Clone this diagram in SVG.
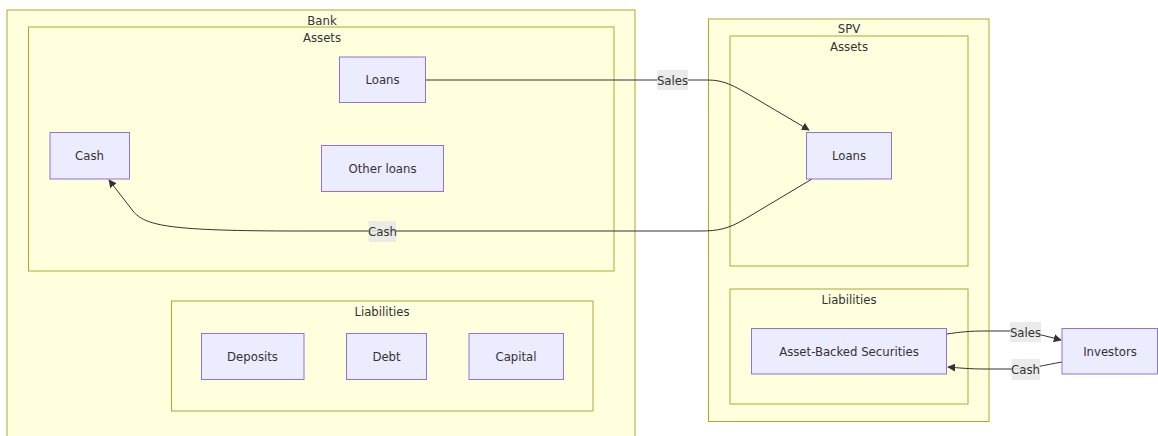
<svg xmlns="http://www.w3.org/2000/svg" width="1158" height="436" viewBox="0 0 1158 436">
  <style>
    .cluster { fill: #ffffde; stroke: #aaaa33; stroke-width: 1; }
    .node rect { fill: #ececff; stroke: #9370db; stroke-width: 1; }
    text { font-family: "DejaVu Sans Condensed", "Liberation Sans", sans-serif; font-size: 13px; fill: #333333; text-anchor: middle; dominant-baseline: central; }
    .edge { fill: none; stroke: #333333; stroke-width: 1; marker-end: url(#arrow); }
    .lbl-bg { fill: #e8e8e8; opacity: 0.85; }
  </style>
  <defs>
    <marker id="arrow" viewBox="0 0 10 10" refX="9" refY="5" markerWidth="8" markerHeight="8" markerUnits="userSpaceOnUse" orient="auto">
      <path d="M0,0 L10,5 L0,10 z" fill="#333333"/>
    </marker>
  </defs>
  <rect width="1158" height="436" fill="#ffffff"/>

  <!-- subgraphs -->
  <g id="bank">
    <rect class="cluster" x="7" y="10" width="628" height="440"/>
    <text x="322" y="20">Bank</text>
  </g>
  <g id="bank-assets">
    <rect class="cluster" x="28.5" y="27" width="585.5" height="244"/>
    <text x="322" y="37">Assets</text>
  </g>
  <g id="bank-liabilities">
    <rect class="cluster" x="171.5" y="301" width="421.5" height="110"/>
    <text x="382" y="311">Liabilities</text>
  </g>
  <g id="spv">
    <rect class="cluster" x="708.5" y="19" width="280.5" height="402.5"/>
    <text x="849" y="28.5">SPV</text>
  </g>
  <g id="spv-assets">
    <rect class="cluster" x="730" y="36" width="238" height="230"/>
    <text x="849" y="46">Assets</text>
  </g>
  <g id="spv-liabilities">
    <rect class="cluster" x="730" y="289" width="238" height="115"/>
    <text x="849" y="299">Liabilities</text>
  </g>

  <!-- connectors -->
  <g id="connectors">
    <path class="edge" d="M425.5,80 L708,80 C724,80 734,86 748,94 L809,130"/>
    <path class="edge" d="M812,179 L745,219 C728,229 718,231 700,231 L300,231 C170,231 145,226 133,211 L109,180"/>
    <path class="edge" d="M947,334 C960,332 970,331 985,331 L1010,331 C1030,331 1045,336 1061,340"/>
    <path class="edge" d="M1062,362 C1045,365 1030,369 1015,369 L985,369 C970,369 960,368 948,367"/>
    <rect class="lbl-bg" x="657" y="70" width="31" height="20"/>
    <text x="672.5" y="80">Sales</text>
    <rect class="lbl-bg" x="368.5" y="221" width="27.5" height="21"/>
    <text x="382.5" y="231">Cash</text>
    <rect class="lbl-bg" x="1010" y="322" width="31" height="20"/>
    <text x="1025.5" y="332">Sales</text>
    <rect class="lbl-bg" x="1011.5" y="359" width="28.5" height="21"/>
    <text x="1025.5" y="369">Cash</text>
  </g>

  <!-- nodes -->
  <g id="bank-loans" class="node">
    <rect x="339.5" y="57" width="86" height="45.5"/>
    <text x="382.5" y="79.5">Loans</text>
  </g>
  <g id="bank-cash" class="node">
    <rect x="50" y="132.5" width="79.5" height="46.5"/>
    <text x="89.5" y="155.5">Cash</text>
  </g>
  <g id="other-loans" class="node">
    <rect x="321.5" y="145.5" width="122" height="46"/>
    <text x="382.5" y="168">Other loans</text>
  </g>
  <g id="deposits" class="node">
    <rect x="201.5" y="333.5" width="102.5" height="46"/>
    <text x="252.5" y="356">Deposits</text>
  </g>
  <g id="debt" class="node">
    <rect x="346.5" y="333.5" width="80" height="46"/>
    <text x="386.5" y="356">Debt</text>
  </g>
  <g id="capital" class="node">
    <rect x="469" y="333.5" width="94.5" height="46"/>
    <text x="516" y="356">Capital</text>
  </g>
  <g id="spv-loans" class="node">
    <rect x="806.5" y="132.5" width="85" height="46.5"/>
    <text x="849" y="155.5">Loans</text>
  </g>
  <g id="abs" class="node">
    <rect x="751.5" y="328.5" width="195" height="45.5"/>
    <text x="849" y="351">Asset-Backed Securities</text>
  </g>
  <g id="investors" class="node">
    <rect x="1062" y="328.5" width="95.5" height="45.5"/>
    <text x="1110" y="351">Investors</text>
  </g>
</svg>
